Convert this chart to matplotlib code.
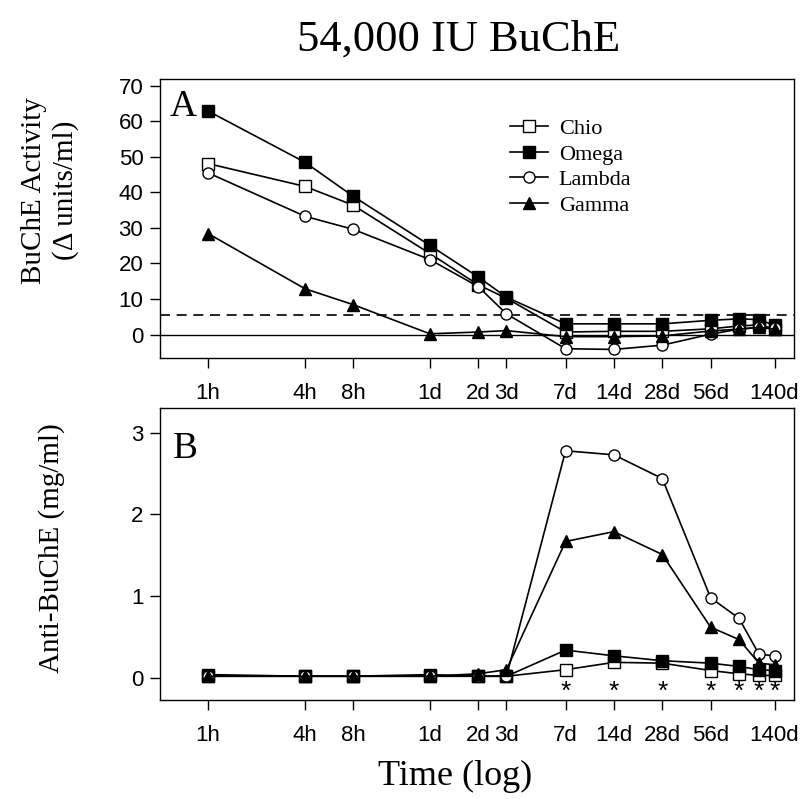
import numpy as np
import matplotlib
matplotlib.use("Agg")
from matplotlib import pyplot as plt

# time points in hours (log axis)
tick_hours = [1, 4, 8, 24, 48, 72, 168, 336, 672, 1344, 3360]
tick_labels = ['1h', '4h', '8h', '1d', '2d', '3d', '7d', '14d', '28d', '56d', '140d']
hours = [1, 4, 8, 24, 48, 72, 168, 336, 672, 1344, 2016, 2688, 3360]

# panel A: BuChE activity (delta units/ml)
chio_a = [48.1, 41.7, 36.4, 22.8, 14.0, 10.2, 0.7, 0.9, 0.9, 1.6, 2.4, 2.7, 1.6]
omega_a = [62.9, 48.5, 38.9, 25.1, 16.2, 10.5, 3.0, 3.0, 3.0, 4.0, 4.4, 4.2, 2.6]
lambda_a = [45.5, 33.3, 29.6, 21.1, 13.5, 5.8, -4.0, -4.2, -3.0, 0.1, 1.5, 2.0, 1.8]
gamma_a = [28.4, 12.9, 8.4, 0.2, 0.7, 1.1, -0.6, -0.6, -0.4, 1.0, 1.5, 2.0, 1.5]
threshold = 5.6

# panel B: anti-BuChE (mg/ml)
chio_b = [0.04, 0.02, 0.02, 0.04, 0.02, 0.02, 0.10, 0.19, 0.18, 0.09, 0.05, 0.03, 0.03]
omega_b = [0.02, 0.02, 0.02, 0.02, 0.02, 0.02, 0.34, 0.27, 0.21, 0.18, 0.14, 0.10, 0.09]
lambda_b = [0.02, 0.02, 0.02, 0.02, 0.02, 0.02, 2.78, 2.73, 2.44, 0.98, 0.73, 0.29, 0.27]
gamma_b = [0.02, 0.02, 0.02, 0.02, 0.05, 0.10, 1.67, 1.79, 1.51, 0.62, 0.47, 0.18, 0.16]
signif_hours = [168, 336, 672, 1344, 2016, 2688, 3360]

serif = 'Liberation Serif'
sans = 'Liberation Sans'

fig = plt.figure(figsize=(8, 7.99), dpi=100)
ax1 = fig.add_axes([0.2, 0.552, 0.793, 0.349])
ax2 = fig.add_axes([0.2, 0.124, 0.793, 0.365])

styles = [
    ('Chio', 's', 'white'),
    ('Omega', 's', 'black'),
    ('Lambda', 'o', 'white'),
    ('Gamma', '^', 'black'),
]

for ax, series in [(ax1, [chio_a, omega_a, lambda_a, gamma_a]),
                   (ax2, [chio_b, omega_b, lambda_b, gamma_b])]:
    for (name, mk, fc), vals in zip(styles, series):
        ms = 9 if mk == '^' else 8
        ax.plot(hours, vals, color='black', lw=1.2, marker=mk, ms=ms,
                mfc=fc, mec='black', mew=1.0, label=name)
    ax.set_xscale('log')
    ax.set_xlim(10 ** -0.3, 10 ** 3.65)
    ax.set_xticks(tick_hours)
    ax.set_xticklabels(tick_labels)
    ax.xaxis.set_minor_locator(matplotlib.ticker.NullLocator())
    ax.tick_params(direction='out', length=7, width=1, labelsize=16, pad=11)
    for lab in ax.get_xticklabels() + ax.get_yticklabels():
        lab.set_fontfamily(sans)
    for sp in ax.spines.values():
        sp.set_linewidth(1.0)

ax1.axhline(0, color='black', lw=1.0, zorder=1)
ax1.axhline(threshold, color='black', lw=1.2, ls=(0, (6, 4)), zorder=1)
ax1.set_ylim(-6.6, 71.9)
ax1.set_yticks(range(0, 71, 10))
ax1.tick_params(axis='y', pad=5)

ax2.set_ylim(-0.27, 3.3)
ax2.set_yticks([0, 1, 2, 3])
ax2.tick_params(axis='y', pad=5)
for h in signif_hours:
    ax2.text(h, -0.17, '*', ha='center', va='center', fontsize=19, family=sans)

ax1.text(0.015, 0.9, 'A', transform=ax1.transAxes, fontsize=27, family=serif, va='center')
ax2.text(0.02, 0.86, 'B', transform=ax2.transAxes, fontsize=27, family=serif, va='center')

ax1.set_ylabel('BuChE Activity\n(\u0394 units/ml)', fontsize=21, family=serif, linespacing=1.25)
ax1.yaxis.set_label_coords(-0.127, 0.6)
ax2.set_ylabel('Anti-BuChE (mg/ml)', fontsize=21, family=serif)
ax2.yaxis.set_label_coords(-0.15, 0.52)

leg = ax1.legend(loc='upper left', bbox_to_anchor=(0.52, 0.93), frameon=False,
                 prop={'family': serif, 'size': 16}, handlelength=1.7,
                 labelspacing=0.22, handletextpad=0.5)

fig.text(0.573, 0.95, '54,000 IU BuChE', ha='center', va='center', fontsize=32, family=serif)
fig.text(0.569, 0.028, 'Time (log)', ha='center', va='center', fontsize=26, family=serif)

fig.savefig('out.png', dpi=100)
